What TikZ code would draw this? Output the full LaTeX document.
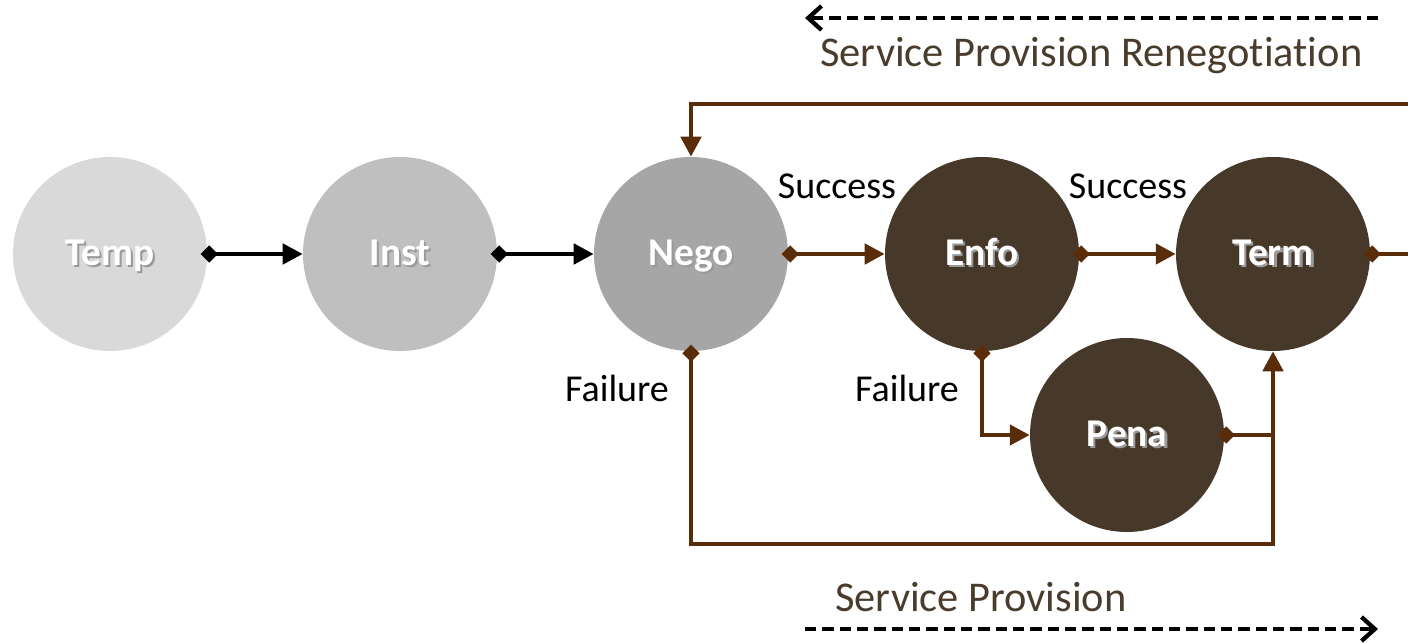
\documentclass[tikz,border=0pt]{standalone}
\usepackage{fontspec}
\setmainfont{Carlito}[Ligatures=NoCommon]
\usetikzlibrary{arrows.meta,calc}

\definecolor{stateA}{RGB}{217,217,217}
\definecolor{stateB}{RGB}{191,191,191}
\definecolor{stateC}{RGB}{166,166,166}
\definecolor{stateD}{RGB}{71,57,42}
\definecolor{flowbrown}{RGB}{90,45,10}
\definecolor{captionbrown}{RGB}{74,60,44}

% white bold label with a soft drop shadow
\newcommand{\shadowlabel}[1]{\makebox[0pt][l]{\hspace{1.6pt}\raisebox{-1.6pt}{\textcolor{black!40}{#1}}}#1}

\begin{document}
\begin{tikzpicture}[x=0.75pt,y=-0.75pt,
  state/.style={circle, minimum size=145.5pt, inner sep=0pt, text=white,
    text height=18pt, text depth=1.5pt,
    font=\bfseries\fontsize{29.5}{34}\selectfont},
  link/.style={line width=3.5pt,
    {Diamond[length=13pt,width=13pt]}-{Triangle[length=15pt,width=15pt]}},
  startonly/.style={line width=3.5pt, {Diamond[length=13pt,width=13pt]}-},
  endonly/.style={line width=3.5pt, -{Triangle[length=15pt,width=15pt]}},
  lbl/.style={font=\fontsize{28.5}{34}\selectfont, inner sep=0pt},
  caption/.style={font=\fontsize{31.8}{38}\selectfont, text=captionbrown, inner sep=0pt, anchor=west},
  phase/.style={line width=3.2pt, dash pattern=on 8.5pt off 4.5pt,
    -{Straight Barb[length=10pt,width=18pt,line width=3.2pt]}}
]
\useasboundingbox (0,0) rectangle (1408,642);

% lifecycle states
\node[state, fill=stateA] (temp) at (110,254) {\shadowlabel{Temp}};
\node[state, fill=stateB] (inst) at (400,254) {\shadowlabel{Inst}};
\node[state, fill=stateC] (nego) at (691,254) {\shadowlabel{Nego}};
\node[state, fill=stateD] (enfo) at (982,254) {\shadowlabel{Enfo}};
\node[state, fill=stateD] (term) at (1273,254) {\shadowlabel{Term}};
\node[state, fill=stateD] (pena) at (1127,435) {\shadowlabel{Pena}};

% free ends and corners
\coordinate (topR) at (1408,104);
\coordinate (termR) at (1408,254);
\coordinate (bot) at (982,544);

% black transitions
\draw[link, black] ([xshift=-5pt]temp.east) -- (inst.west);
\draw[link, black] ([xshift=-5pt]inst.east) -- (nego.west);

% brown transitions
\draw[link, flowbrown] ([xshift=-5pt]nego.east) -- (enfo.west);
\draw[link, flowbrown] ([xshift=-5pt]enfo.east) -- (term.west);
\draw[startonly, flowbrown] ([xshift=-5pt]term.east) -- (termR);
\draw[endonly, flowbrown] (topR) -| (nego.north);
\draw[link, flowbrown] ([yshift=5pt]nego.south) |- (bot) -| (term.south);
\draw[link, flowbrown] ([yshift=5pt]enfo.south) |- (pena.west);
\draw[startonly, flowbrown] ([xshift=-5pt]pena.east) -- (pena.east -| term.south);

% transition labels
\node[lbl] (succ1) at (837,186) {Success};
\node[lbl] (succ2) at (1128,186) {Success};
\node[lbl] (fail1) at (617,388) {Failure};
\node[lbl] (fail2) at (907,388) {Failure};

% phase arrows and captions
\coordinate (renegR) at (1378,18);
\coordinate (renegL) at (805,18);
\coordinate (provL) at (805,629);
\coordinate (provR) at (1378,629);
\draw[phase] (renegR) -- (renegL);
\draw[phase] (provL) -- (provR);
\node[caption] (reneg) at (820,56) {Service Provision Renegotiation};
\node[caption] (prov) at (835,597) {Service Provision};
\end{tikzpicture}
\end{document}
